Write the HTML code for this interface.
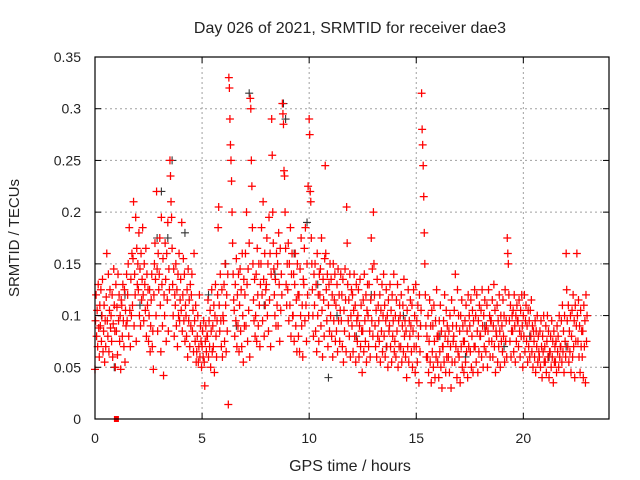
<!DOCTYPE html>
<html><head><meta charset="utf-8"><style>
body{margin:0;background:#fff}
svg{display:block;font-family:"Liberation Sans",sans-serif}
</style></head><body>
<svg id="chart" width="640" height="480">
<text x="350" y="33" text-anchor="middle" font-size="16" fill="#222">Day 026 of 2021, SRMTID for receiver dae3</text>
<text x="350" y="471" text-anchor="middle" font-size="16" fill="#222">GPS time / hours</text>
<text transform="translate(19,238) rotate(-90)" text-anchor="middle" font-size="15" fill="#222">SRMTID / TECUs</text>
<g id="grid"></g><g id="marks"></g><g id="axes"></g>
</svg>
<script>
const xTicks=[0,5,10,15,20];
const yTicks=[0,0.05,0.1,0.15,0.2,0.25,0.3,0.35];
const yTickLabels=["0","0.05","0.1","0.15","0.2","0.25","0.3","0.35"];
const binHours=0.25;
const redBins=[
"48 95 120 80 105 70 130 88 60 110","90 125 75 100 135 65 85 110 55 95","70 118 160 95 80 140 65 105 125 88","100 75 120 60 92 145 110 85 50 130",
"85 108 62 140 95 120 75 100 48 115","110 80 130 95 70 125 55 105 90 140","95 120 150 80 185 105 70 135 100 160","110 155 210 90 140 120 195 75 165 130",
"150 125 180 100 145 90 160 115 135 185","120 95 150 130 105 165 80 140 110 125","75 100 125 65 90 115 140 70 85 48","120 150 170 135 100 220 145 85 160 125",
"140 175 110 65 195 130 90 155 42 120","100 170 135 75 160 115 190 85 145 125","250 235 210 195 165 130 100 145 80 120","110 150 90 125 70 140 100 160 95 115",
"135 105 190 85 120 155 95 140 75 110","100 80 125 60 145 95 115 70 130 90","120 140 85 105 65 160 95 75 110 55","65 80 100 55 70 120 60 90 75 50",
"70 85 60 95 55 32 75 90 65 80","80 115 60 95 70 105 50 85 125 65","90 70 110 45 100 130 80 60 95 120","185 205 110 85 140 95 70 125 60 100",
"95 130 75 150 110 65 120 85 140 14","330 320 290 265 250 230 200 170 140 115","105 80 130 95 155 70 120 90 140 65","110 145 85 125 70 160 100 55 135 90",
"120 160 90 200 130 75 145 105 170 60","310 300 250 225 185 150 115 95 135 80","100 140 75 165 120 90 150 110 70 130","150 185 120 95 210 135 80 160 110 125",
"130 175 100 150 85 195 115 160 70 140","290 255 200 170 145 120 100 135 90 160","110 150 90 180 130 75 165 105 140 120","305 295 285 240 235 200 165 130 110 150",
"125 170 95 150 110 185 80 140 160 100","100 140 75 130 160 90 115 65 150 120","80 120 65 145 100 175 90 110 60 135","130 165 95 185 110 75 150 120 225 100",
"290 275 220 210 175 150 125 100 80 140","110 150 85 130 65 160 100 120 75 140","120 145 90 175 105 60 135 115 80 155","245 160 125 95 140 70 110 130 85 150",
"100 135 80 120 60 150 95 115 140 75","110 85 130 65 145 95 120 75 105 140","95 120 70 135 55 105 85 145 115 65","205 170 130 95 115 80 140 60 100 125",
"90 120 65 105 140 80 110 55 130 95","75 100 125 60 90 135 70 110 85 45","85 115 65 140 95 75 120 55 105 130","100 70 130 85 60 115 175 95 145 80",
"200 150 120 90 70 105 60 135 80 110","95 75 120 55 105 85 130 65 100 140","80 110 60 95 125 70 100 50 115 85","90 130 70 105 55 120 80 95 140 65",
"75 100 60 115 85 130 50 95 70 110","100 70 120 55 90 110 65 135 80 95","60 85 40 105 70 125 55 95 80 115","90 65 110 50 85 125 70 100 45 130",
"70 95 55 110 80 35 120 65 90 105","315 280 265 245 215 180 150 120 90 60","80 60 100 45 75 115 55 90 35 105","65 90 50 110 75 40 95 60 125 80",
"55 80 40 95 65 110 50 85 30 70","70 95 55 120 80 45 105 60 90 75","60 85 45 100 70 30 115 55 90 75","80 105 55 140 70 90 40 125 65 100",
"60 85 35 100 70 115 50 90 75 45","75 95 55 110 65 85 40 120 70 100","90 65 115 50 80 105 45 95 70 125","70 100 55 120 85 45 95 65 110 80",
"80 105 60 125 90 50 100 70 115 85","65 90 110 50 85 125 75 100 60 95","95 75 115 60 90 130 70 105 45 85","80 110 55 95 70 120 85 50 100 75",
"90 65 115 80 100 55 125 75 95 60","175 160 150 120 95 75 110 60 85 100","85 105 65 120 90 55 100 75 110 95","95 70 115 85 60 105 80 120 90 50",
"100 80 120 65 95 110 75 90 55 105","70 95 60 105 80 115 65 90 50 85","75 60 95 45 85 70 100 55 80 65","60 85 50 95 70 40 80 65 100 55",
"70 55 90 45 75 100 60 85 40 65","65 80 50 95 60 75 35 85 55 70","55 75 45 90 65 80 50 100 60 70","70 95 55 110 65 85 45 100 75 60",
"160 125 95 70 110 55 85 65 100 45","80 105 60 120 70 95 40 110 75 90","160 100 75 115 60 90 45 105 70 85","60 85 40 110 70 95 35 120 75 100"
];
const blackT=[0.3,0.9,1.4,2.1,2.9,3.1,3.4,3.6,4.2,5.3,6.1,6.6,7.2,7.9,8.4,8.8,8.9,9.3,9.9,10.4,10.9,11.3,12.2,12.9,13.6,14.4,15.2,16.1,17.3,18.2,19.1,20.3,21.2,22.0];
const blackY=[0.10,0.05,0.12,0.11,0.175,0.22,0.175,0.25,0.18,0.12,0.15,0.09,0.315,0.11,0.14,0.305,0.29,0.16,0.19,0.13,0.04,0.1,0.08,0.12,0.07,0.1,0.09,0.08,0.06,0.09,0.07,0.08,0.06,0.07];
const squareT=[1.0], squareY=[0.0];

const X0=95,X1=609,Y0=419,Y1=57,XMAX=24,YMAX=0.35;
const sx=t=>X0+(X1-X0)*t/XMAX, sy=v=>Y0-(Y0-Y1)*v/YMAX;
const NS="http://www.w3.org/2000/svg";
function mk(tag,attrs,parent){const e=document.createElementNS(NS,tag);for(const k in attrs)e.setAttribute(k,attrs[k]);parent.appendChild(e);return e;}
const grid=document.getElementById('grid'),marks=document.getElementById('marks'),axes=document.getElementById('axes');
xTicks.forEach(t=>{if(t>0){const l=mk('line',{x1:sx(t),x2:sx(t),y1:Y0,y2:Y1,stroke:'#a0a0a0','stroke-dasharray':'2,3'},grid);

}
mk('line',{x1:sx(t),x2:sx(t),y1:Y0,y2:Y0-6,stroke:'#000'},axes);mk('line',{x1:sx(t),x2:sx(t),y1:Y1,y2:Y1+6,stroke:'#000'},axes);
const tx=mk('text',{x:sx(t),y:Y0+24,'text-anchor':'middle','font-size':14,fill:'#222'},axes);tx.textContent=t;

});
yTicks.forEach((v,i)=>{if(v>0&&v<YMAX){const l=mk('line',{x1:X0,x2:X1,y1:sy(v),y2:sy(v),stroke:'#a0a0a0','stroke-dasharray':'2,3'},grid);

}
mk('line',{x1:X0,x2:X0+6,y1:sy(v),y2:sy(v),stroke:'#000'},axes);mk('line',{x1:X1,x2:X1-6,y1:sy(v),y2:sy(v),stroke:'#000'},axes);
const tx=mk('text',{x:X0-14,y:sy(v)+5,'text-anchor':'end','font-size':14,fill:'#222'},axes);tx.textContent=yTickLabels[i];

});
const fr=mk('rect',{x:X0,y:Y1,width:X1-X0,height:Y0-Y1,fill:'none',stroke:'#000','stroke-width':1.2},axes);


function plus(t,v){return `M${sx(t)-4},${sy(v)}h8M${sx(t)},${sy(v)-4}v8`;}
let dB='';blackT.forEach((t,i)=>{dB+=plus(t,blackY[i]);});
const pb=mk('path',{d:dB,stroke:'#333','stroke-width':1.1,fill:'none'},marks);


let dR='';redBins.forEach((s,b)=>{const vals=s.split(' ').map(Number);vals.forEach((v,j)=>{const t=b*binHours+j*binHours/vals.length;dR+=plus(t,v/1000);});});
const pr=mk('path',{d:dR,stroke:'#ff0000','stroke-width':1.25,fill:'none'},marks);


squareT.forEach((t,i)=>{const r=mk('rect',{x:sx(t)-2.5,y:sy(squareY[i])-3,width:5,height:6,fill:'#ff0000'},marks);

});
</script>
</body></html>
